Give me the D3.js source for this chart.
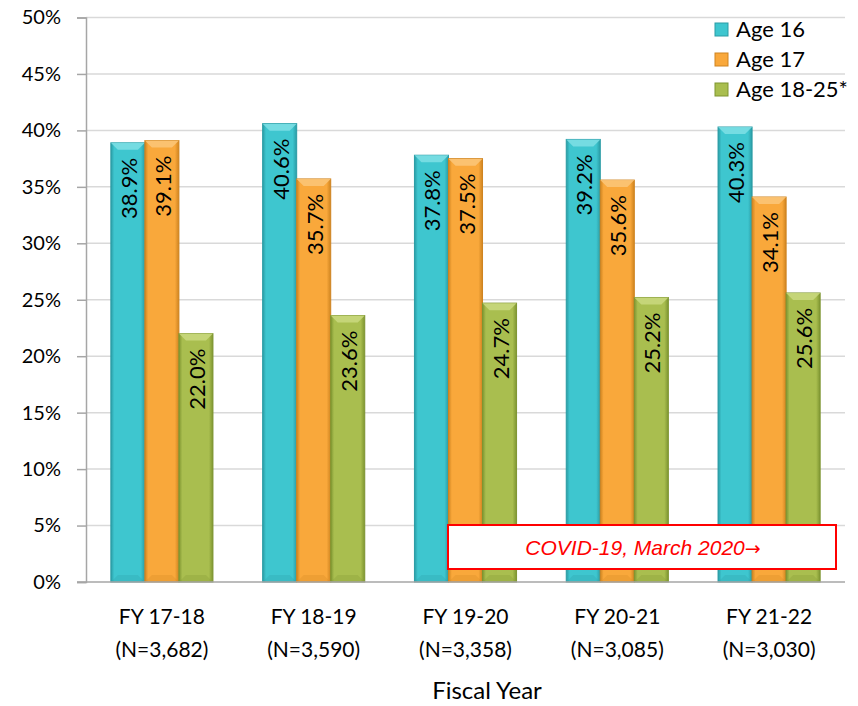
<!DOCTYPE html>
<html><head><meta charset="utf-8">
<script src="https://cdn.jsdelivr.net/npm/d3@7"></script>
<style>body{margin:0;background:#fff}svg{display:block}</style>
</head><body>
<svg id="chart" width="858" height="706"></svg>
<script>
const categories = ["FY 17-18", "FY 18-19", "FY 19-20", "FY 20-21", "FY 21-22"];
const nLabels = ["(N=3,682)", "(N=3,590)", "(N=3,358)", "(N=3,085)", "(N=3,030)"];
const seriesNames = ["Age 16", "Age 17", "Age 18-25*"];
const age16 = [38.9, 40.6, 37.8, 39.2, 40.3];
const age17 = [39.1, 35.7, 37.5, 35.6, 34.1];
const age1825 = [22.0, 23.6, 24.7, 25.2, 25.6];
const yTicks = [0, 5, 10, 15, 20, 25, 30, 35, 40, 45, 50];
const seriesValues = [age16, age17, age1825];
const colors = [
  {main:"#3ec6cf", dark:"#2a9ca5", light:"#7fdfe5"},
  {main:"#f9a83b", dark:"#cf8420", light:"#fcc77a"},
  {main:"#a9be4f", dark:"#7e9531", light:"#cad97f"}
];

const svg = d3.select("#chart");
const font = "Lato, 'Open Sans', sans-serif";
const pLeft = 86, pRight = 845, pTop = 17.5, pBottom = 582;

const y = d3.scaleLinear().domain([0, 50]).range([pBottom, pTop]);
const x0 = d3.scaleBand().domain(categories).range([pLeft, pRight]).paddingInner(0).paddingOuter(0);
const x1 = d3.scaleBand().domain(seriesNames).range([0, x0.bandwidth()]).paddingInner(0).paddingOuter(0.73);

const defs = svg.append("defs");
colors.forEach((c, i) => {
  const g = defs.append("linearGradient").attr("id", "g" + i).attr("x1", "0").attr("x2", "1").attr("y1", "0").attr("y2", "0");
  g.append("stop").attr("offset", "0").attr("stop-color", c.dark);
  g.append("stop").attr("offset", "0.1").attr("stop-color", c.main);
  g.append("stop").attr("offset", "0.88").attr("stop-color", c.main);
  g.append("stop").attr("offset", "1").attr("stop-color", c.dark);
});

svg.append("g").selectAll("line").data(yTicks.filter(t => t > 0)).join("line")
  .attr("x1", pLeft).attr("x2", pRight)
  .attr("y1", d => y(d)).attr("y2", d => y(d))
  .attr("stroke", "#d9d9d9").attr("stroke-width", 1.5);

const yAxis = d3.axisLeft(y).tickValues(yTicks).tickFormat(d => d + "%").tickSize(9).tickPadding(16);
const ya = svg.append("g").attr("transform", `translate(${pLeft},0)`).call(yAxis);
ya.select(".domain").attr("stroke", "#a6a6a6").attr("stroke-width", 1.5);
ya.selectAll(".tick line").attr("stroke", "#a6a6a6").attr("stroke-width", 1.5);
ya.selectAll(".tick text").attr("font-family", font).attr("font-size", 20).attr("fill", "#000");

const groups = svg.append("g").selectAll("g").data(categories).join("g")
  .attr("transform", d => `translate(${x0(d)},0)`);
groups.each(function(cat, ci) {
  const g = d3.select(this);
  seriesNames.forEach((s, si) => {
    const v = seriesValues[si][ci];
    const bx = x1(s), bw = x1.bandwidth();
    const by = y(v), bh = y(0) - y(v);
    const c = colors[si];
    g.append("rect").attr("x", bx).attr("y", by).attr("width", bw).attr("height", bh)
      .attr("fill", `url(#g${si})`).attr("stroke", c.dark).attr("stroke-width", 1);
    const b = 7;
    g.append("path").attr("d", `M${bx},${by} L${bx+bw},${by} L${bx+bw-b},${by+b} L${bx+b},${by+b} Z`)
      .attr("fill", c.light).attr("opacity", 0.85);
    g.append("path").attr("d", `M${bx},${by+bh} L${bx+b},${by+bh-b} L${bx+bw-b},${by+bh-b} L${bx+bw},${by+bh} Z`)
      .attr("fill", c.dark).attr("opacity", 0.25);
    g.append("text")
      .attr("transform", `translate(${bx + bw/2 + 9},${by + 15}) rotate(-90)`)
      .attr("text-anchor", "end")
      .attr("font-family", font).attr("font-size", 22).attr("fill", "#000")
      .text(v.toFixed(1) + "%");
  });
});

svg.append("line").attr("x1", pLeft - 9).attr("x2", pRight).attr("y1", pBottom).attr("y2", pBottom)
  .attr("stroke", "#a6a6a6").attr("stroke-width", 1.5);

svg.append("g").selectAll("text").data(categories).join("text")
  .attr("x", d => x0(d) + x0.bandwidth()/2).attr("y", 624)
  .attr("text-anchor", "middle").attr("font-family", font).attr("font-size", 21).attr("fill", "#000")
  .text(d => d);
svg.append("g").selectAll("text").data(nLabels).join("text")
  .attr("x", (d, i) => x0(categories[i]) + x0.bandwidth()/2).attr("y", 657)
  .attr("text-anchor", "middle").attr("font-family", font).attr("font-size", 21).attr("fill", "#000")
  .text(d => d);
svg.append("text").attr("x", 487).attr("y", 699)
  .attr("text-anchor", "middle").attr("font-family", font).attr("font-size", 24).attr("fill", "#000")
  .text("Fiscal Year");

svg.append("rect").attr("x", 448).attr("y", 525).attr("width", 388).attr("height", 44)
  .attr("fill", "#fff").attr("stroke", "#ff0000").attr("stroke-width", 2);
const ann = svg.append("text").attr("x", 643).attr("y", 555).attr("text-anchor", "middle")
  .attr("font-family", "'Liberation Sans', Arial, sans-serif").attr("font-style", "italic")
  .attr("font-size", 21).attr("fill", "#ff0000");
ann.append("tspan").text("COVID-19, March 2020");
ann.append("tspan").attr("font-family", "'DejaVu Sans', sans-serif").attr("font-style", "normal")
  .attr("font-size", 19).text("\u2192");

const lg = svg.append("g").selectAll("g").data(seriesNames).join("g")
  .attr("transform", (d, i) => `translate(715,${30 + i*30})`);
lg.append("rect").attr("x", 0).attr("y", -7).attr("width", 13).attr("height", 13)
  .attr("fill", (d, i) => colors[i].main).attr("stroke", (d, i) => colors[i].dark);
lg.append("text").attr("x", 21).attr("y", 7).attr("font-family", font).attr("font-size", 22).attr("fill", "#000")
  .text(d => d);
</script>
</body></html>
